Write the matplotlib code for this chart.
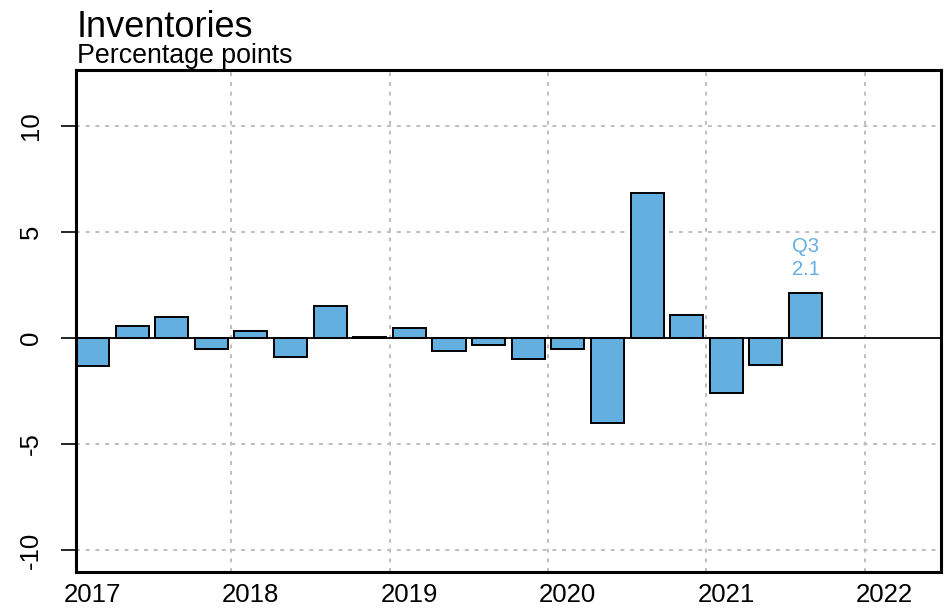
import numpy as np
import matplotlib.pyplot as plt
from matplotlib import font_manager

# quarterly contributions, 2017Q1 .. 2021Q3
years = [2017, 2018, 2019, 2020, 2021]
quarters = ['Q1', 'Q2', 'Q3', 'Q4']
values = [-1.30, 0.58, 1.00, -0.53,
          0.33, -0.88, 1.52, 0.05,
          0.47, -0.60, -0.33, -1.00,
          -0.52, -4.00, 6.84, 1.10,
          -2.61, -1.26, 2.12]
year_labels = ['2017', '2018', '2019', '2020', '2021', '2022']
y_ticks = [-10, -5, 0, 5, 10]
last_label = 'Q3'

names = {f.name for f in font_manager.fontManager.ttflist}
has_narrow = 'Liberation Sans Narrow' in names
narrow = 'Liberation Sans Narrow' if has_narrow else 'Liberation Sans'
regular = 'Liberation Sans'
tick_fs = 22 if has_narrow else 18.5
note_fs = 17 if has_narrow else 14.5

bar_col = '#62AFE0'
grid_col = '#BEBEBE'

x = 2017 + np.arange(len(values)) / 4 + 0.125

fig = plt.figure(figsize=(9.47, 6.11), dpi=100)
ax = fig.add_axes([76 / 947, 39 / 611, 865 / 947, 502 / 611])

# grid
for yr in range(2018, 2023):
    ax.axvline(yr, color=grid_col, lw=1.4, ls=(0, (2, 3)), zorder=0)
for t in y_ticks:
    if t != 0:
        ax.axhline(t, color=grid_col, lw=1.4, ls=(0, (2, 3)), zorder=0)

ax.bar(x, values, width=0.25 / 1.2, color=bar_col, edgecolor='black', linewidth=1.4, zorder=2)
ax.axhline(0, color='black', lw=1.3, zorder=3)

ax.text(x[-1], values[-1] + 2.2, last_label, ha='center', va='center', color=bar_col,
        fontsize=note_fs, family=narrow)
ax.text(x[-1], values[-1] + 1.1, '%.1f' % values[-1], ha='center', va='center', color=bar_col,
        fontsize=note_fs, family=narrow)

ax.set_xlim(2017.021, 2022.48)
ax.set_ylim(-11.04, 12.64)

ax.set_xticks([int(s) + 0.125 for s in year_labels])
ax.set_xticklabels(year_labels, family=narrow, fontsize=tick_fs)
ax.tick_params(axis='x', length=0, pad=8)
ax.set_yticks(y_ticks)
ax.set_yticklabels([str(t) for t in y_ticks], family=narrow, fontsize=tick_fs, rotation=90, va='center')
ax.tick_params(axis='y', length=11, width=1.2, pad=13)

for s in ax.spines.values():
    s.set_linewidth(2.2)

fig.text(77 / 947, 1 - 37 / 611, 'Inventories', family=regular, fontsize=26, va='baseline')
fig.text(77 / 947, 1 - 63 / 611, 'Percentage points', family=regular, fontsize=19.3, va='baseline')

fig.savefig('out.png', dpi=100)
